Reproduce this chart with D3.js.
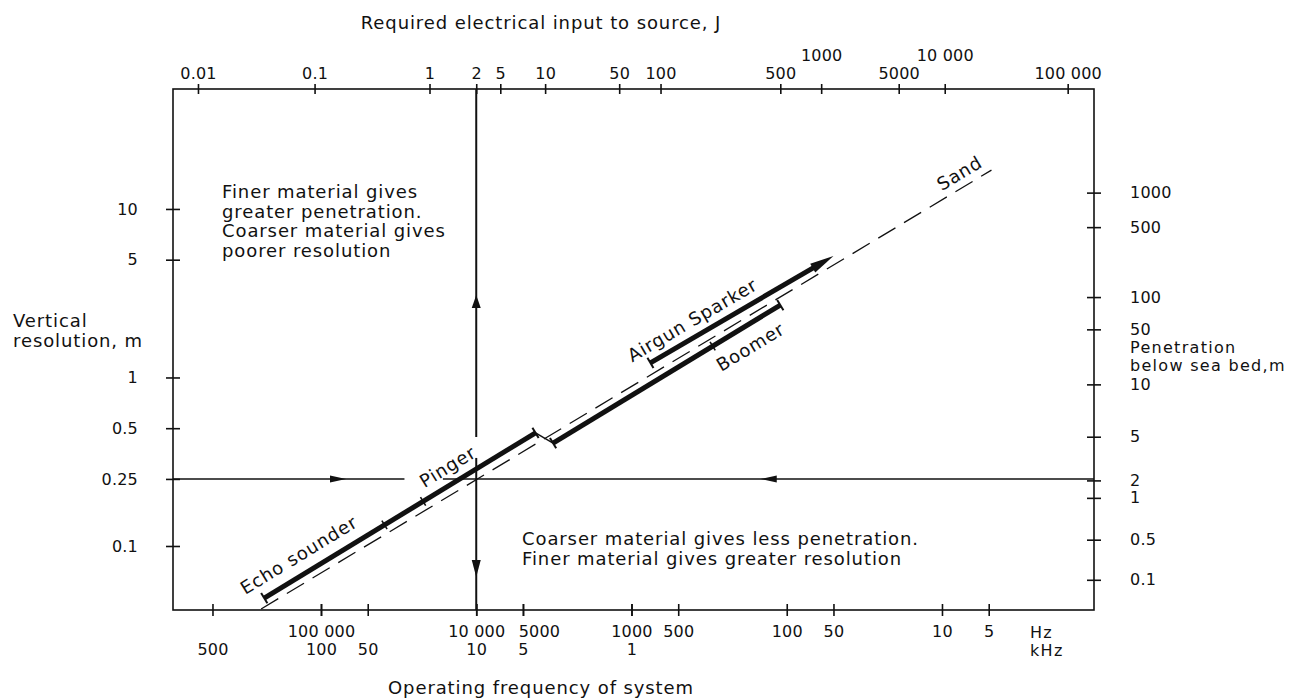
<!DOCTYPE html>
<html>
<head>
<meta charset="utf-8">
<script src="https://cdn.jsdelivr.net/npm/d3@7"></script>
<style>
  body { margin: 0; background: #fff; }
  text { font-family: "DejaVu Sans", sans-serif; fill: #111; }
  .lab { font-size: 18px; letter-spacing: 0.9px; }
  .small { font-size: 16px; letter-spacing: 1.3px; }
  .tick text { font-size: 16px; letter-spacing: 0.2px; }
</style>
</head>
<body>
<script>
// Bottom axis: operating frequency, two rows (Hz and kHz)
const hzTicks = [100000, 10000, 5000, 1000, 500, 100, 50, 10, 5];
const khzTicks = [500, 100, 50, 10, 5, 1];

// Top axis: required electrical input (J), and the frequency (Hz) each value lines up with
const energyTicks = [0.01, 0.1, 1, 2, 5, 10, 50, 100, 500, 1000, 5000, 10000, 100000];
const energyAtHz = [620000, 110000, 20000, 10000, 7000, 3600, 1200, 650, 110, 60, 19, 9.6, 1.55];

// Left axis: vertical resolution (m)
const resTicks = [10, 5, 1, 0.5, 0.25, 0.1];

// Right axis: penetration below sea bed (m), and the resolution (m) each value lines up with
const penTicks = [1000, 500, 100, 50, 10, 5, 2, 1, 0.5, 0.1];
const penAtRes = [12.5, 7.8, 3.0, 1.93, 0.91, 0.445, 0.245, 0.193, 0.109, 0.063];

// Systems: end points as (frequency Hz, resolution m)
const echoPinger = [{hz: 232000, res: 0.049}, {hz: 4150, res: 0.469}];
const echoPingerSplits = [39000, 22000];
const boomer = [{hz: 3200, res: 0.408}, {hz: 110, res: 2.69}];
const boomerSplits = [300];
const airgunSparker = [{hz: 755, res: 1.22}, {hz: 50, res: 5.26}];
const sand = [{hz: 243000, res: 0.0423}, {hz: 4.8, res: 17.0}];

// Reference lines: 0.25 m resolution and 10 kHz (2 J)
const refRes = 0.25;
const refResGapHz = [29000, 16400];
const refResArrowsHz = [69000, 147];
const refHz = 10000;
const refHzGapRes = [0.443, 0.333];
const refHzArrowsRes = [3.09, 0.0655];

const width = 1307, height = 698;
const plot = {left: 173, right: 1094, top: 89, bottom: 610};
const ink = "#111";

const svg = d3.select("body").append("svg")
    .attr("width", width)
    .attr("height", height);

// scales
const x = d3.scaleLog().domain([898000, 1.049]).range([plot.left, plot.right]);
const xk = x.copy().domain(x.domain().map(d => d / 1000));
const y = d3.scaleLog().domain([0.0417, 51.5]).range([plot.bottom, plot.top]);
const xTop = d3.scaleLog().domain(energyTicks).range(energyAtHz.map(x));
const yRight = d3.scaleLog().domain(penTicks).range(penAtRes.map(y));

const fmt = d => d >= 10000 ? d3.format(",")(d).replace(/,/g, " ") : String(d);

function tidy(g) {
    g.attr("font-size", null).attr("font-family", null);
    g.select(".domain").remove();
    g.selectAll(".tick line").attr("stroke", ink).attr("stroke-width", 1.6);
}

// top axis
const gTop = svg.append("g")
    .attr("transform", "translate(0," + plot.top + ")")
    .call(d3.axisTop(xTop).tickValues(energyTicks).tickFormat(fmt).tickSize(5).tickPadding(5));
tidy(gTop);
gTop.selectAll(".tick line").attr("y1", 5);
gTop.selectAll(".tick text").filter(d => d === 1000 || d === 10000).attr("dy", "-18px");

// bottom axis, Hz row
const gHz = svg.append("g")
    .attr("transform", "translate(0," + plot.bottom + ")")
    .call(d3.axisBottom(x).tickValues(hzTicks).tickFormat(fmt).tickSize(6).tickPadding(10));
tidy(gHz);
gHz.selectAll(".tick line").attr("y1", -6);
gHz.selectAll(".tick text").filter(d => d === 5000).attr("dx", 16);

// bottom axis, kHz row
const gkHz = svg.append("g")
    .attr("transform", "translate(0," + plot.bottom + ")")
    .call(d3.axisBottom(xk).tickValues(khzTicks).tickFormat(fmt).tickSize(6).tickPadding(28));
tidy(gkHz);
gkHz.selectAll(".tick line").attr("y1", -6);

// left axis
const gLeft = svg.append("g")
    .attr("transform", "translate(" + plot.left + ",0)")
    .call(d3.axisLeft(y).tickValues(resTicks).tickFormat(String).tickSize(7).tickPadding(28));
tidy(gLeft);
gLeft.selectAll(".tick line").attr("x1", 7);

// right axis
const gRight = svg.append("g")
    .attr("transform", "translate(" + plot.right + ",0)")
    .call(d3.axisRight(yRight).tickValues(penTicks).tickFormat(String).tickSize(7).tickPadding(29));
tidy(gRight);
gRight.selectAll(".tick line").attr("x1", -7);

// frame
svg.append("rect")
    .attr("x", plot.left).attr("y", plot.top)
    .attr("width", plot.right - plot.left).attr("height", plot.bottom - plot.top)
    .attr("fill", "none").attr("stroke", ink).attr("stroke-width", 1.6);

// helpers
function ends(pts) {
    return pts.map(p => [x(p.hz), y(p.res)]);
}
function along(a, b, t, off) {
    const dx = b[0] - a[0], dy = b[1] - a[1], L = Math.hypot(dx, dy);
    const ux = dx / L, uy = dy / L;
    return [a[0] + dx * t + uy * off, a[1] + dy * t - ux * off];
}
function unit(a, b) {
    const dx = b[0] - a[0], dy = b[1] - a[1], L = Math.hypot(dx, dy);
    return [dx / L, dy / L];
}
function line(a, b, w, dash) {
    svg.append("line")
        .attr("x1", a[0]).attr("y1", a[1]).attr("x2", b[0]).attr("y2", b[1])
        .attr("stroke", ink).attr("stroke-width", w)
        .attr("stroke-dasharray", dash || null);
}
function arrowHead(tip, u, len, half) {
    const bx = tip[0] - u[0] * len, by = tip[1] - u[1] * len;
    svg.append("path")
        .attr("d", "M" + tip + "L" + [bx - u[1] * half, by + u[0] * half] + "L" + [bx + u[1] * half, by - u[0] * half] + "Z")
        .attr("fill", ink);
}
function crossTick(p, u, half, w) {
    line([p[0] - u[1] * half, p[1] + u[0] * half], [p[0] + u[1] * half, p[1] - u[0] * half], w);
}
function pointAtHz(a, b, hz) {
    const t = (x(hz) - a[0]) / (b[0] - a[0]);
    return [a[0] + (b[0] - a[0]) * t, a[1] + (b[1] - a[1]) * t];
}
function label(a, b, t, off, txt) {
    const p = along(a, b, t, off);
    const ang = Math.atan2(b[1] - a[1], b[0] - a[0]) * 180 / Math.PI;
    svg.append("text").attr("class", "lab")
        .attr("transform", "translate(" + p + ") rotate(" + ang + ")")
        .attr("text-anchor", "middle")
        .attr("dominant-baseline", "central")
        .text(txt);
}

// reference line at 0.25 m
const yRef = y(refRes);
line([plot.left, yRef], [x(refResGapHz[0]), yRef], 1.5);
line([x(refResGapHz[1]), yRef], [plot.right, yRef], 1.5);
arrowHead([x(refResArrowsHz[0]), yRef], [1, 0], 16, 3.5);
arrowHead([x(refResArrowsHz[1]), yRef], [-1, 0], 16, 3.5);

// reference line at 10 kHz
const xRef = x(refHz);
line([xRef, plot.top], [xRef, y(refHzGapRes[0])], 2);
line([xRef, y(refHzGapRes[1])], [xRef, plot.bottom], 2);
arrowHead([xRef, y(refHzArrowsRes[0])], [0, -1], 13, 4.5);
arrowHead([xRef, y(refHzArrowsRes[1])], [0, 1], 17, 4.5);

// sand line
const [sa, sb] = ends(sand);
line(sa, sb, 1.3, "20,10");
label(sa, sb, 0.966, 14, "Sand");

// echo sounder / pinger
const [ea, eb] = ends(echoPinger);
const eu = unit(ea, eb);
line(ea, eb, 5);
crossTick(ea, eu, 6, 2);
crossTick(eb, eu, 6, 2);
echoPingerSplits.forEach(hz => crossTick(pointAtHz(ea, eb, hz), eu, 5, 1.6));
label(ea, eb, 0.164, 19, "Echo sounder");
label(ea, eb, 0.709, 17, "Pinger");

// boomer
const [ba, bb] = ends(boomer);
const bu = unit(ba, bb);
line(eb, ba, 1.5);
line(ba, bb, 5);
crossTick(ba, bu, 6, 2);
crossTick(bb, bu, 6, 2);
boomerSplits.forEach(hz => crossTick(pointAtHz(ba, bb, hz), bu, 5, 1.6));
label(ba, bb, 0.822, -20, "Boomer");

// airgun / sparker
const [aa, ab] = ends(airgunSparker);
const au = unit(aa, ab);
line(aa, [ab[0] - au[0] * 20, ab[1] - au[1] * 20], 5);
crossTick(aa, au, 6, 2);
arrowHead(ab, au, 24, 5);
label(aa, ab, 0.273, 16, "Airgun Sparker");

// explanatory text
const notes = [
    {x: 222, y: 198, gap: 19.7, cls: "lab", lines: ["Finer material gives", "greater penetration.", "Coarser material gives", "poorer resolution"]},
    {x: 522, y: 545, gap: 19.5, cls: "lab", lines: ["Coarser material gives less penetration.", "Finer material gives greater resolution"]},
    {x: 13, y: 327, gap: 20, cls: "lab", lines: ["Vertical", "resolution, m"]},
    {x: 1130, y: 353, gap: 18, cls: "small", lines: ["Penetration", "below sea bed,m"]}
];
notes.forEach(n => {
    const t = svg.append("text").attr("class", n.cls).attr("x", n.x).attr("y", n.y);
    n.lines.forEach((s, i) => t.append("tspan").attr("x", n.x).attr("dy", i ? n.gap : 0).text(s));
});

// axis titles
svg.append("text").attr("class", "lab")
    .attr("x", 541).attr("y", 29).attr("text-anchor", "middle")
    .text("Required electrical input to source, J");
svg.append("text").attr("class", "lab")
    .attr("x", 541).attr("y", 694).attr("text-anchor", "middle")
    .text("Operating frequency of system");

// unit labels at the end of the bottom axis rows
svg.append("text").attr("class", "small").attr("x", 1030).attr("y", 638).text("Hz");
svg.append("text").attr("class", "small").attr("x", 1030).attr("y", 656).text("kHz");
</script>
</body>
</html>
